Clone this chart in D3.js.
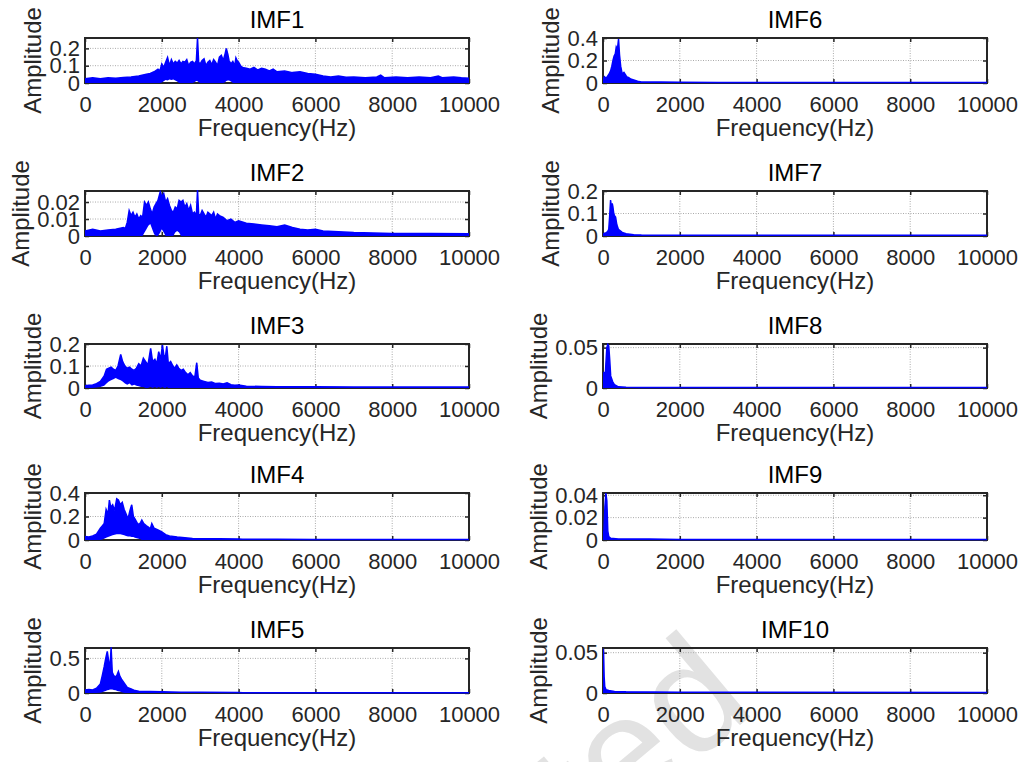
<!DOCTYPE html>
<html>
<head>
<meta charset="utf-8">
<script src="https://cdn.jsdelivr.net/npm/d3@7"></script>
<style>
  body { margin: 0; background: #fff; }
  svg text { font-family: "Liberation Sans", Arial, sans-serif; }
</style>
</head>
<body>
<div id="chart"></div>
<script>

// spectrum envelopes: [frequency (Hz), upper amplitude, lower amplitude]
var imf1 = [[0,0.025,0],[200,0.03,0],[400,0.025,0],[600,0.03,0],[800,0.028,0],[1000,0.032,0],[1200,0.035,0],[1400,0.04,0],
  [1600,0.05,0],[1700,0.055,0],[1800,0.065,0],[1900,0.08,0],[1950,0.07,0],[2000,0.11,0.003],[2050,0.09,0.01],
  [2100,0.12,0.018],[2150,0.147,0.015],[2200,0.1,0.02],[2250,0.135,0.018],[2300,0.11,0.02],[2350,0.125,0.015],[2400,0.115,0.008],
  [2450,0.13,0],[2500,0.11,0],[2550,0.125,0],[2600,0.12,0],[2650,0.135,0],[2700,0.1,0],[2750,0.12,0],
  [2800,0.125,0],[2850,0.11,0.005],[2900,0.13,0.012],[2930,0.26,0.01],[2960,0.12,0.005],[3000,0.11,0],[3050,0.13,0],
  [3100,0.14,0],[3150,0.1,0],[3200,0.12,0],[3250,0.13,0],[3300,0.105,0],[3350,0.135,0],[3400,0.12,0],
  [3450,0.1,0],[3500,0.15,0],[3550,0.16,0],[3600,0.13,0],[3650,0.17,0.005],[3680,0.2,0.012],[3720,0.165,0.015],
  [3750,0.13,0.015],[3800,0.11,0.008],[3850,0.125,0],[3900,0.1,0],[3930,0.145,0],[3960,0.13,0],[4000,0.12,0],
  [4050,0.1,0],[4100,0.09,0],[4200,0.085,0],[4300,0.08,0],[4400,0.09,0],[4500,0.075,0],[4600,0.085,0],
  [4700,0.08,0],[4800,0.07,0],[4900,0.08,0],[5000,0.065,0],[5200,0.07,0],[5400,0.06,0],[5600,0.065,0],[5800,0.055,0],
  [6000,0.05,0],[6200,0.04,0],[6400,0.035,0],[6600,0.04,0],[6800,0.033,0],[7000,0.035,0],[7300,0.03,0],[7600,0.035,0],
  [7700,0.045,0],[7800,0.03,0],[8100,0.035,0],[8400,0.03,0],[8700,0.035,0],[9000,0.03,0],[9200,0.04,0],[9300,0.03,0],
  [9600,0.035,0],[9800,0.03,0],[10000,0.028,0]];

var imf2 = [[0,0.003,0],[200,0.004,0],[400,0.003,0],[600,0.0035,0],[800,0.004,0],[1000,0.005,0],[1050,0.0045,0],
  [1100,0.008,0],[1150,0.015,0],[1200,0.012,0],[1250,0.014,0],[1300,0.011,0],[1350,0.013,0],
  [1400,0.01,0],[1450,0.012,0],[1500,0.011,0],[1550,0.02,0.002],[1600,0.018,0.004],[1650,0.02,0.006],
  [1700,0.016,0.007],[1750,0.013,0.004],[1800,0.017,0.001],[1850,0.019,0],[1900,0.021,0],[1960,0.026,0.002],
  [2000,0.023,0.004],[2050,0.025,0.002],[2100,0.02,0],[2150,0.022,0],[2200,0.018,0],[2250,0.015,0],
  [2300,0.014,0],[2350,0.017,0.002],[2400,0.016,0.003],[2450,0.021,0.002],[2500,0.02,0],[2550,0.021,0],
  [2600,0.017,0],[2650,0.019,0],[2700,0.015,0],[2750,0.018,0],[2800,0.013,0],[2850,0.014,0],
  [2900,0.012,0],[2930,0.027,0],[2960,0.013,0],[3000,0.012,0],[3050,0.015,0],[3100,0.013,0],
  [3150,0.011,0],[3200,0.014,0],[3300,0.012,0],[3350,0.014,0],[3400,0.01,0],[3450,0.013,0],
  [3500,0.012,0],[3600,0.011,0],[3700,0.009,0],[3800,0.01,0],[3900,0.008,0],[4000,0.009,0],
  [4200,0.0075,0],[4400,0.007,0],[4600,0.0065,0],[4800,0.006,0],[5000,0.0055,0],[5200,0.0065,0],[5400,0.005,0],
  [5600,0.004,0],[5800,0.0035,0],[6000,0.004,0],[6200,0.003,0],[6600,0.0025,0],[7000,0.002,0],[8000,0.0015,0],
  [9000,0.0015,0],[10000,0.0013,0]];

var imf3 = [[0,0.01,0],[100,0.012,0],[200,0.014,0],[300,0.02,0.002],[400,0.03,0.004],[500,0.055,0.01],[560,0.085,0.02],
  [620,0.09,0.03],[680,0.095,0.035],[740,0.085,0.04],[800,0.08,0.045],[860,0.1,0.04],[930,0.153,0.035],[980,0.12,0.03],
  [1040,0.1,0.02],[1100,0.09,0.015],[1160,0.095,0.02],[1220,0.085,0.01],[1280,0.08,0.015],[1340,0.09,0.01],[1400,0.11,0.008],
  [1460,0.1,0.005],[1520,0.135,0.005],[1580,0.12,0],[1640,0.105,0],[1710,0.18,0.005],[1760,0.12,0],[1820,0.13,0.005],
  [1870,0.11,0],[1920,0.165,0.005],[1970,0.13,0],[2017,0.195,0.005],[2060,0.14,0],[2100,0.15,0],[2130,0.19,0.005],
  [2170,0.11,0],[2230,0.12,0],[2290,0.1,0],[2340,0.09,0],[2390,0.105,0],[2440,0.09,0],[2500,0.08,0],
  [2560,0.085,0],[2620,0.07,0],[2680,0.06,0],[2740,0.07,0],[2800,0.055,0],[2860,0.05,0],
  [2910,0.115,0],[2950,0.045,0],[3000,0.035,0],[3100,0.03,0],[3200,0.025,0],[3300,0.027,0],[3400,0.02,0],
  [3500,0.022,0],[3600,0.018,0],[3700,0.024,0],[3800,0.015,0],[3900,0.012,0],[4000,0.014,0],[4200,0.008,0],[4600,0.007,0],
  [5000,0.006,0],[6000,0.006,0],[7000,0.005,0],[8000,0.005,0],[9000,0.005,0],[10000,0.005,0]];

var imf4 = [[0,0.03,0],[100,0.025,0],[200,0.035,0],[300,0.05,0],[400,0.1,0],[450,0.12,0.005],[500,0.14,0.01],
  [550,0.26,0.02],[600,0.22,0.025],[635,0.34,0.03],[670,0.28,0.035],[720,0.3,0.04],[770,0.25,0.045],[826,0.35,0.05],
  [870,0.34,0.05],[920,0.3,0.05],[970,0.32,0.045],[1020,0.26,0.04],[1070,0.22,0.035],[1120,0.18,0.03],[1170,0.25,0.03],
  [1217,0.3,0.025],[1260,0.2,0.025],[1300,0.18,0.02],[1350,0.15,0.015],[1400,0.13,0.01],[1450,0.15,0.005],[1480,0.17,0],
  [1530,0.14,0],[1600,0.12,0],[1650,0.11,0],[1700,0.095,0],[1740,0.14,0],[1800,0.1,0],
  [1900,0.085,0],[2000,0.07,0],[2100,0.045,0],[2200,0.035,0],[2400,0.025,0],[2600,0.02,0],[2800,0.013,0],
  [3000,0.011,0],[3500,0.01,0],[4000,0.009,0],[4100,0.006,0],[5000,0.006,0],[6000,0.005,0],[7000,0.005,0],[8000,0.005,0],
  [9000,0.005,0],[10000,0.005,0]];

var imf5 = [[0,0.045,0],[100,0.05,0],[200,0.045,0],[300,0.07,0],[400,0.13,0.005],[450,0.25,0.01],[500,0.38,0.02],
  [540,0.5,0.03],[580,0.6,0.04],[620,0.45,0.045],[650,0.35,0.05],[680,0.66,0.05],[710,0.3,0.05],[750,0.25,0.045],
  [800,0.23,0.04],[840,0.27,0.03],[870,0.31,0.025],[910,0.24,0.02],[950,0.2,0.01],[1000,0.16,0.005],[1050,0.12,0],
  [1100,0.08,0],[1200,0.06,0],[1300,0.035,0],[1400,0.025,0],[1700,0.02,0],[2000,0.018,0],[2500,0.012,0],
  [3000,0.01,0],[4000,0.009,0],[4100,0.005,0],[6000,0.005,0],[8000,0.005,0],[10000,0.005,0]];

var imf6 = [[0,0.03,0],[40,0.055,0],[80,0.04,0],[120,0.06,0],[160,0.08,0],[200,0.11,0],[230,0.15,0],
  [260,0.2,0],[290,0.24,0],[320,0.26,0],[345,0.32,0],[375,0.3,0],[405,0.39,0],[430,0.25,0],
  [460,0.15,0],[500,0.08,0],[545,0.095,0],[600,0.065,0],[650,0.045,0],[665,0.05,0],[720,0.035,0],
  [800,0.027,0],[900,0.015,0],[1000,0.01,0],[1500,0.008,0],[2000,0.006,0],[3000,0.004,0],[5000,0.004,0],[10000,0.004,0]];

var imf7 = [[0,0.01,0],[60,0.012,0],[120,0.02,0],[150,0.03,0],[172,0.084,0],[198,0.16,0],[220,0.12,0],
  [240,0.145,0],[258,0.13,0],[280,0.1,0],[300,0.09,0],[327,0.084,0],[360,0.05,0],[400,0.03,0],
  [500,0.016,0],[600,0.01,0],[800,0.006,0],[1000,0.004,0],[2000,0.003,0],[10000,0.003,0]];

var imf8 = [[0,0.005,0],[25,0.02,0],[50,0.006,0],[75,0.03,0],[100,0.05,0],[125,0.054,0],[150,0.052,0],[175,0.035,0],
  [200,0.015,0],[250,0.008,0],[300,0.004,0],[400,0.0015,0],[600,0.0008,0],[1000,0.0005,0],[10000,0.0005,0]];

var imf9 = [[0,0.005,0],[25,0.008,0],[50,0.03,0],[75,0.042,0],[100,0.035,0],[125,0.008,0],[150,0.003,0],[200,0.0015,0],
  [400,0.001,0],[1200,0.0008,0],[2000,0.0004,0],[10000,0.0004,0]];

var imf10 = [[0,0.055,0],[15,0.05,0],[30,0.02,0],[45,0.008,0],[80,0.004,0],[150,0.003,0],[300,0.002,0],[600,0.0015,0],
  [2000,0.001,0],[10000,0.0005,0]];

var titles = ["IMF1","IMF2","IMF3","IMF4","IMF5","IMF6","IMF7","IMF8","IMF9","IMF10"];
var spectra = [imf1, imf2, imf3, imf4, imf5, imf6, imf7, imf8, imf9, imf10];
var yMax = [0.26, 0.0265, 0.2, 0.4, 0.65, 0.4, 0.2, 0.0545, 0.042, 0.0558];
var yTicks = [[0,0.1,0.2],[0,0.01,0.02],[0,0.1,0.2],[0,0.2,0.4],[0,0.5],
              [0,0.2,0.4],[0,0.1,0.2],[0,0.05],[0,0.02,0.04],[0,0.05]];
var xTicks = [0,2000,4000,6000,8000,10000];
var xLabel = "Frequency(Hz)", yLabel = "Amplitude";

// layout
var W = 1022, H = 762;
var colLeft = [85, 603], plotW = 384;
var rowTop = [38, 191, 344, 493, 648], rowH = [45, 45, 44, 47, 45];
var ink = "#262626", blue = "#0000ff";

var svg = d3.select("#chart").append("svg")
  .attr("width", W).attr("height", H);
svg.append("rect").attr("width", W).attr("height", H).attr("fill", "#fff");

// faint journal watermark
svg.append("text")
  .attr("transform", "translate(758,710) rotate(-40)")
  .attr("text-anchor", "end")
  .style("font-size", "158px")
  .attr("fill", "#e2e2e2")
  .text("Accepted");

spectra.forEach(function(data, i) {
  var col = Math.floor(i / 5), row = i % 5;
  var h = rowH[row];
  var x = d3.scaleLinear().domain([0, 10000]).range([0, plotW]);
  var y = d3.scaleLinear().domain([0, yMax[i]]).range([h, 0]);

  var g = svg.append("g")
    .attr("transform", "translate(" + colLeft[col] + "," + rowTop[row] + ")");

  // dotted grid
  g.append("g").selectAll("line").data(xTicks.slice(1, -1)).join("line")
    .attr("x1", d => x(d)).attr("x2", d => x(d)).attr("y1", 0).attr("y2", h)
    .attr("stroke", "#aaa").attr("stroke-dasharray", "1,1.5");
  g.append("g").selectAll("line").data(yTicks[i].filter(v => v > 0)).join("line")
    .attr("x1", 0).attr("x2", plotW).attr("y1", d => y(d)).attr("y2", d => y(d))
    .attr("stroke", "#aaa").attr("stroke-dasharray", "1,1.5");

  // axes, ticks pointing inward on all four sides
  g.append("g").attr("transform", "translate(0," + h + ")")
    .call(d3.axisBottom(x).tickValues(xTicks).tickFormat(d3.format("d"))
      .tickSizeInner(-4).tickSizeOuter(0).tickPadding(13));
  g.append("g")
    .call(d3.axisTop(x).tickValues(xTicks).tickFormat("").tickSizeInner(-4).tickSizeOuter(0));
  var ya = g.append("g")
    .call(d3.axisLeft(y).tickValues(yTicks[i]).tickFormat(d3.format("")).tickSizeInner(-4).tickSizeOuter(0).tickPadding(5));
  g.append("g").attr("transform", "translate(" + plotW + ",0)")
    .call(d3.axisRight(y).tickValues(yTicks[i]).tickFormat("").tickSizeInner(-4).tickSizeOuter(0));

  g.selectAll(".domain").remove();
  g.selectAll(".tick line").attr("stroke", ink).attr("stroke-width", 1.5);
  g.selectAll(".tick text").attr("fill", ink).style("font-size", "22px").attr("font-family", null);

  g.append("rect").attr("width", plotW).attr("height", h)
    .attr("fill", "none").attr("stroke", ink).attr("stroke-width", 2);

  // spectrum, drawn over the box so the noise floor shows along the bottom edge
  g.append("clipPath").attr("id", "clip" + i)
    .append("rect").attr("y", -1).attr("width", plotW).attr("height", h + 2);
  var plot = g.append("g").attr("clip-path", "url(#clip" + i + ")");
  var area = d3.area().x(d => x(d[0])).y0(d => y(d[2])).y1(d => y(d[1]));
  var line = d3.line().x(d => x(d[0])).y(d => y(d[1]));
  plot.append("path").datum(data).attr("d", area).attr("fill", blue);
  plot.append("path").datum(data).attr("d", line)
    .attr("fill", "none").attr("stroke", blue).attr("stroke-width", 1.5);

  // labels
  var maxW = d3.max(ya.selectAll("text").nodes(), n => n.getBBox().width);
  g.append("text")
    .attr("transform", "translate(" + (-(5 + maxW + 8)) + "," + (h / 2) + ") rotate(-90)")
    .attr("text-anchor", "middle").attr("fill", ink).style("font-size", "24px")
    .text(yLabel);
  g.append("text")
    .attr("x", plotW / 2).attr("y", h + 53)
    .attr("text-anchor", "middle").attr("fill", ink).style("font-size", "24px")
    .text(xLabel);
  g.append("text")
    .attr("x", plotW / 2).attr("y", -10)
    .attr("text-anchor", "middle").attr("fill", "#000").style("font-size", "24px")
    .text(titles[i]);
});

</script>
</body>
</html>
